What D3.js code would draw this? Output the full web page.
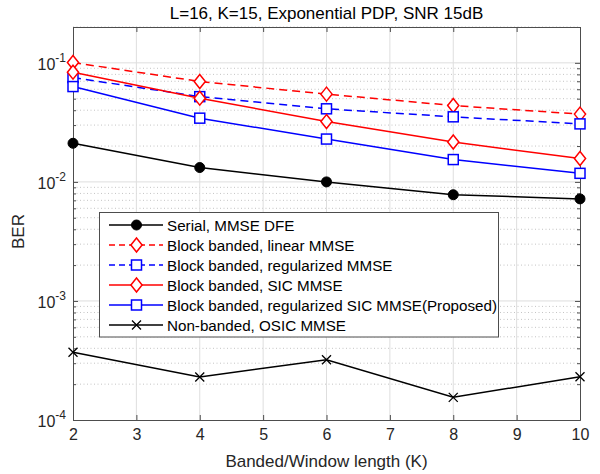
<!DOCTYPE html>
<html><head><meta charset="utf-8">
<script src="https://cdn.jsdelivr.net/npm/d3@7"></script>
<style>
html,body{margin:0;padding:0;background:#fff;}
svg{display:block;font-family:"Liberation Sans",Arial,Helvetica,sans-serif;}
</style></head>
<body><svg id="c" width="600" height="474"></svg>
<script>
const title = "L=16, K=15, Exponential PDP, SNR 15dB";
const xLabel = "Banded/Window length (K)";
const yLabel = "BER";
const K = [2, 4, 6, 8, 10];
const xTicks = [2, 3, 4, 5, 6, 7, 8, 9, 10];
const yDecades = [-4, -3, -2, -1];
const serialDFE = [0.0211, 0.0132, 0.0100, 0.0078, 0.0072];
const linearMMSE = [0.1006, 0.0697, 0.0546, 0.0438, 0.0371];
const regMMSE = [0.0752, 0.0520, 0.0411, 0.0352, 0.0307];
const sicMMSE = [0.0835, 0.0505, 0.0321, 0.0216, 0.0157];
const regSicMMSE = [0.0632, 0.0343, 0.0229, 0.0154, 0.0118];
const osicMMSE = [3.71e-4, 2.30e-4, 3.21e-4, 1.55e-4, 2.31e-4];
const seriesNames = ["Serial, MMSE DFE", "Block banded, linear MMSE", "Block banded, regularized MMSE",
  "Block banded, SIC MMSE", "Block banded, regularized SIC MMSE(Proposed)", "Non-banded, OSIC MMSE"];

const series = [
  {name: seriesNames[0], values: serialDFE, color: "#000000", dash: null, marker: "circle"},
  {name: seriesNames[1], values: linearMMSE, color: "#ff0000", dash: "8,5", marker: "diamond"},
  {name: seriesNames[2], values: regMMSE, color: "#0000ff", dash: "8,5", marker: "square"},
  {name: seriesNames[3], values: sicMMSE, color: "#ff0000", dash: null, marker: "diamond"},
  {name: seriesNames[4], values: regSicMMSE, color: "#0000ff", dash: null, marker: "square"},
  {name: seriesNames[5], values: osicMMSE, color: "#000000", dash: null, marker: "x"}
];

const L = 73, R = 580, T = 27, B = 420;
const svg = d3.select("#c");
const x = d3.scaleLinear().domain([2, 10]).range([L, R]);
const y = d3.scaleLog().domain([1e-4, 0.2]).range([B, T]);
const axisCol = "#4d4d4d";

// grid
const g = svg.append("g");
const minorVals = [];
yDecades.forEach(d => { for (let m = 2; m <= 9; m++) { const v = m * Math.pow(10, d); if (v <= 0.2) minorVals.push(v); } });
g.selectAll(".ymin").data(minorVals).enter().append("line")
  .attr("x1", L).attr("x2", R).attr("y1", d => y(d)).attr("y2", d => y(d))
  .attr("stroke", "#c4c4c4").attr("stroke-width", 1).attr("stroke-dasharray", "1,2.5");
g.selectAll(".ymaj").data(yDecades.slice(1)).enter().append("line")
  .attr("x1", L).attr("x2", R).attr("y1", d => y(Math.pow(10, d))).attr("y2", d => y(Math.pow(10, d)))
  .attr("stroke", "#dedede").attr("stroke-width", 1);
g.selectAll(".xg").data(xTicks.slice(1, -1)).enter().append("line")
  .attr("y1", T).attr("y2", B).attr("x1", d => x(d)).attr("x2", d => x(d))
  .attr("stroke", "#dedede").attr("stroke-width", 1);

// axes box with inward ticks
const axB = d3.axisBottom(x).tickValues(xTicks).tickSizeInner(-5).tickSizeOuter(0).tickPadding(9).tickFormat(d3.format("d"));
const axT = d3.axisTop(x).tickValues(xTicks).tickSizeInner(-5).tickSizeOuter(0).tickFormat("");
const gB = svg.append("g").attr("transform", `translate(0,${B})`).call(axB);
const gT = svg.append("g").attr("transform", `translate(0,${T})`).call(axT);
[gB, gT].forEach(a => {
  a.select(".domain").attr("stroke", axisCol);
  a.selectAll(".tick line").attr("stroke", axisCol);
  a.selectAll(".tick text").attr("fill", "#262626").style("font-size", "16px").style("font-family", '"Liberation Sans",Arial,sans-serif');
});
const majorVals = yDecades.map(d => Math.pow(10, d));
const axL = d3.axisLeft(y).tickValues(majorVals).tickSizeInner(-5).tickSizeOuter(0).tickFormat("");
const axR = d3.axisRight(y).tickValues(majorVals).tickSizeInner(-5).tickSizeOuter(0).tickFormat("");
const axLm = d3.axisLeft(y).tickValues(minorVals).tickSizeInner(-3).tickSizeOuter(0).tickFormat("");
const axRm = d3.axisRight(y).tickValues(minorVals).tickSizeInner(-3).tickSizeOuter(0).tickFormat("");
[[axLm, L], [axRm, R], [axL, L], [axR, R]].forEach(([a, px]) => {
  const gg = svg.append("g").attr("transform", `translate(${px},0)`).call(a);
  gg.select(".domain").attr("stroke", axisCol);
  gg.selectAll(".tick line").attr("stroke", axisCol);
});
// y tick labels 10^n
const yl = svg.append("g");
yDecades.forEach(d => {
  const t = yl.append("text").attr("x", 66).attr("y", y(Math.pow(10, d)) + 7)
    .attr("text-anchor", "end").attr("fill", "#262626").style("font-size", "16px");
  t.append("tspan").text("10");
  t.append("tspan").attr("dy", -8).style("font-size", "12px").text(String(d));
});

// lines and markers
const line = d3.line().x((d, i) => x(K[i])).y(d => y(d));
function drawMarker(sel, type, color, cx, cy) {
  if (type === "circle") {
    sel.append("circle").attr("cx", cx).attr("cy", cy).attr("r", 5).attr("fill", color).attr("stroke", color);
  } else if (type === "diamond") {
    const s = 7;
    sel.append("path").attr("d", `M${cx},${cy - s}L${cx + s * 0.8},${cy}L${cx},${cy + s}L${cx - s * 0.8},${cy}Z`)
      .attr("fill", "#fff").attr("stroke", color).attr("stroke-width", 1.5);
  } else if (type === "square") {
    const s = 5;
    sel.append("rect").attr("x", cx - s).attr("y", cy - s).attr("width", 2 * s).attr("height", 2 * s)
      .attr("fill", "#fff").attr("stroke", color).attr("stroke-width", 1.5);
  } else if (type === "x") {
    const s = 4.5;
    sel.append("path").attr("d", `M${cx - s},${cy - s}L${cx + s},${cy + s}M${cx - s},${cy + s}L${cx + s},${cy - s}`)
      .attr("stroke", color).attr("stroke-width", 1.3).attr("fill", "none");
  }
}
const plot = svg.append("g");
series.forEach(s => {
  plot.append("path").datum(s.values).attr("d", line).attr("fill", "none")
    .attr("stroke", s.color).attr("stroke-width", 1.5).attr("stroke-dasharray", s.dash);
  const mg = plot.append("g");
  s.values.forEach((v, i) => drawMarker(mg, s.marker, s.color, x(K[i]), y(v)));
});

// legend
const lg = svg.append("g");
lg.append("rect").attr("x", 99.5).attr("y", 212.5).attr("width", 399).attr("height", 124.5)
  .attr("fill", "#fff").attr("stroke", "#4d4d4d").attr("stroke-width", 1);
series.forEach((s, i) => {
  const cy = 225 + i * 20;
  lg.append("line").attr("x1", 109).attr("x2", 163).attr("y1", cy).attr("y2", cy)
    .attr("stroke", s.color).attr("stroke-width", 1.5).attr("stroke-dasharray", s.dash ? "6,4" : null);
  drawMarker(lg, s.marker, s.color, 136.5, cy);
  lg.append("text").attr("x", 167).attr("y", cy + 5.5).attr("fill", "#000").style("font-size", "15.2px").text(s.name);
});

// labels
svg.append("text").attr("x", (L + R) / 2).attr("y", 19).attr("text-anchor", "middle")
  .attr("fill", "#000").style("font-size", "17px").text(title);
svg.append("text").attr("x", (L + R) / 2).attr("y", 467).attr("text-anchor", "middle")
  .attr("fill", "#262626").style("font-size", "17px").text(xLabel);
svg.append("text").attr("transform", `translate(24,${(T + B) / 2 + 8}) rotate(-90)`).attr("text-anchor", "middle")
  .attr("fill", "#262626").style("font-size", "17px").text(yLabel);
</script>
</body></html>
